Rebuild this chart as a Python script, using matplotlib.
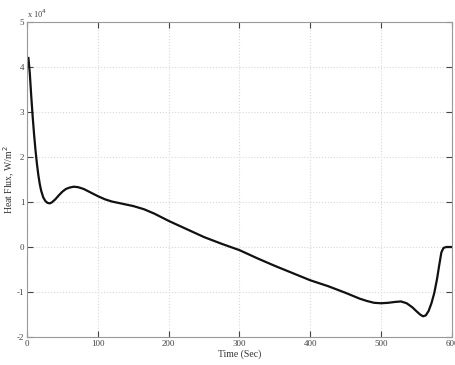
import numpy as np
import matplotlib
matplotlib.use("Agg")
import matplotlib.pyplot as plt
from matplotlib.ticker import FuncFormatter

plt.rcParams['font.family'] = ['Liberation Serif', 'DejaVu Serif']

# time (sec) and heat flux (x 10^4 W/m^2)
time_sec = [2, 4, 6, 8, 10, 12, 14, 16, 18, 20, 23, 26, 29, 32, 35, 40, 45,
            50, 55, 60, 66, 72, 80, 90, 100, 110, 120, 135, 150, 165, 180,
            200, 225, 250, 275, 300, 325, 350, 375, 400, 425, 450, 470, 480,
            490, 500, 510, 520, 528, 536, 544, 550, 555, 559, 563, 567, 571,
            575, 579, 582, 585, 588, 592, 600]
heat_flux = [4.2, 3.85, 3.35, 2.9, 2.5, 2.15, 1.85, 1.6, 1.4, 1.25, 1.1, 1.02,
             0.98, 0.97, 0.99, 1.06, 1.15, 1.23, 1.29, 1.32, 1.34, 1.33, 1.29,
             1.21, 1.13, 1.06, 1.01, 0.96, 0.91, 0.84, 0.74, 0.58, 0.4, 0.22,
             0.07, -0.07, -0.25, -0.42, -0.58, -0.74, -0.87, -1.02, -1.15,
             -1.2, -1.24, -1.25, -1.24, -1.22, -1.21, -1.25, -1.34, -1.43,
             -1.5, -1.54, -1.52, -1.42, -1.25, -1.02, -0.7, -0.4, -0.12,
             -0.02, 0.0, 0.0]
x_ticks = [0, 100, 200, 300, 400, 500, 600]
y_ticks = [-2, -1, 0, 1, 2, 3, 4, 5]

fig = plt.figure(figsize=(4.56, 3.65), dpi=100)
ax = fig.add_axes([27 / 456, 28 / 365, 425 / 456, 315 / 365])

ax.plot(time_sec, np.array(heat_flux) * 1e4, color='#111111', lw=1.6,
        solid_joinstyle='round')

ax.set_xlim(0, 600)
ax.set_ylim(-2e4, 5e4)
ax.set_xticks(x_ticks)
ax.set_yticks([v * 1e4 for v in y_ticks])
ax.yaxis.set_major_formatter(FuncFormatter(lambda v, p: f"{v / 1e4:g}"))
ax.grid(True, color='#d8d8d8', linestyle=':', linewidth=0.8)
ax.tick_params(direction='in', length=4, labelsize=6.5, colors='#444444',
               top=True, right=True, pad=2)
for s in ax.spines.values():
    s.set_color('#999999')
    s.set_linewidth(0.8)

ax.set_xlabel("Time (Sec)", fontsize=7, color='#333333', labelpad=1)
ax.set_ylabel("Heat Flux, W/m$^2$", fontsize=7, color='#333333', labelpad=0)
ax.text(0.0, 1.005, "x 10$^4$", transform=ax.transAxes, fontsize=6,
        color='#444444', ha='left', va='bottom')

fig.savefig("out.png", dpi=100)
